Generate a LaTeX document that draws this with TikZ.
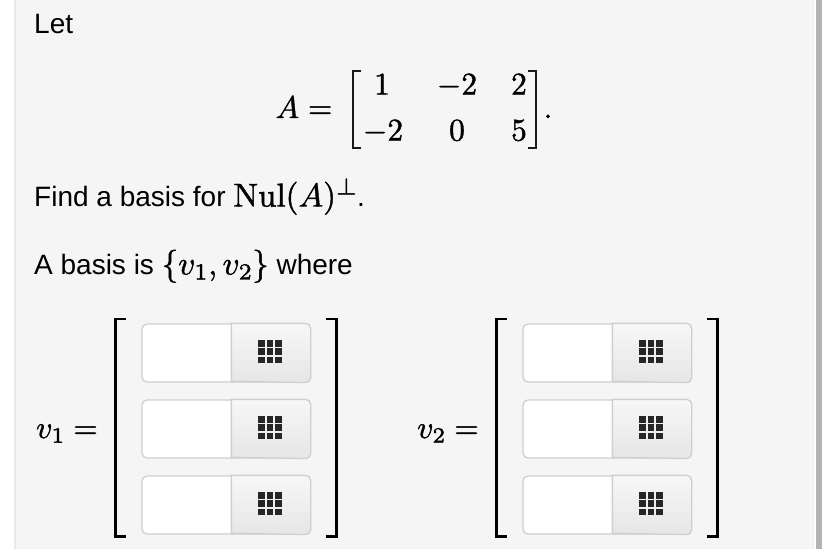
\documentclass[tikz,border=0pt]{standalone}
\usepackage[no-math]{fontspec}
\newfontfamily\helv{Liberation Sans}
\usetikzlibrary{positioning}
% text-size math in the wide shapes, whatever the size
\DeclareFontShape{OT1}{cmr}{m}{n}{<-25>cmr7 <25->cmr10}{}
\DeclareFontShape{OML}{cmm}{m}{it}{<-25>cmmi7 <25->cmmi10}{}
\DeclareFontShape{OMS}{cmsy}{m}{n}{<-25>cmsy7 <25->cmsy10}{}
\DeclareFontShape{OMX}{cmex}{m}{n}{<->cmex10}{}
\newcommand\heavy[1]{\special{pdf:code 2 Tr 0.4 w}#1\special{pdf:code 0 Tr}}
\newcommand\bigmath[1]{{\fontsize{33}{36}\selectfont\heavy{#1}}}
\definecolor{panelgray}{HTML}{F5F5F5}
\definecolor{edgegray}{HTML}{CFCFCF}
\tikzset{
	prose/.style={anchor=base west,inner sep=0pt,font=\fontsize{28}{34}\helv},
	mathtxt/.style={anchor=base,inner sep=0pt,font=\fontsize{31.5}{36}\selectfont},
	field/.style={draw=edgegray,line width=1.3pt,fill=white,rounded corners=5pt,
		minimum width=168pt,minimum height=58pt,inner sep=0pt},
	btn/.style={top color=white!97!black,bottom color=white!90!black,draw=edgegray,line width=1.3pt},
	cell/.style={fill=black!85,minimum size=6.6pt,inner sep=0pt},
	bigbr/.style={line width=2.6pt,black,line cap=butt},
	smallbr/.style={line width=1.6pt,black!90}
}
\begin{document}
\begin{tikzpicture}[x=1pt,y=-1pt]
	\useasboundingbox (0,0) rectangle (828,549);
	\fill[white] (0,0) rectangle (828,549);
	\fill[panelgray] (16,0) rectangle (812,549);
	\fill[black!9] (14,0) rectangle (16,549);
	\fill[black!6] (812,0) rectangle (814,549);
	\fill[black!30] (816,0) rectangle (822,549);

	\node[prose] (let) at (34,33) {Let};
	\node[prose] (find) at (34,206.5) {Find a basis for \bigmath{$\mathrm{Nul}(A)^{\perp}$}.};
	\node[prose] (basis) at (34,274.5) {A basis is \bigmath{$\{v_1,v_2\}$} where};

	% the matrix A
	\node[mathtxt] (lhs) at (304,118) {\heavy{$A=$}};
	\node[mathtxt] (aii) at (382,94.5) {\heavy{$1$}};
	\node[mathtxt] (aij) at (457,94.5) {\heavy{$-2$}};
	\node[mathtxt] (aik) at (519,94.5) {\heavy{$2$}};
	\node[mathtxt] (aji) at (383,140.5) {\heavy{$-2$}};
	\node[mathtxt] (ajj) at (457,140.5) {\heavy{$0$}};
	\node[mathtxt] (ajk) at (519,140.5) {\heavy{$5$}};
	\node[mathtxt] (dot) at (548,118) {\heavy{$.$}};
	\draw[smallbr] (361,71) -- (352.7,71) -- (352.7,148) -- (361,148);
	\draw[smallbr] (528,71) -- (536,71) -- (536,148) -- (528,148);

	% the two vectors
	\node[mathtxt] (vi) at (67,438) {\heavy{$v_1=$}};
	\node[mathtxt] (vii) at (448,438) {\heavy{$v_2=$}};
	\foreach \gx/\gn in {0/i,381/ii}{
		\draw[bigbr] (125.7+\gx,319) -- (115.5+\gx,319) -- (115.5+\gx,536.7) -- (125.7+\gx,536.7);
		\draw[bigbr] (326+\gx,319) -- (336.3+\gx,319) -- (336.3+\gx,536.7) -- (326+\gx,536.7);
		\foreach \by/\bn in {353/a,429/b,505/c}{
			\node[field] (field\gn\bn) at (226+\gx,\by) {};
			\shadedraw[btn] (field\gn\bn.north west) ++(90,0) -- ++(0,58) [rounded corners=5pt] -- (field\gn\bn.south east) -- (field\gn\bn.north east) [sharp corners] -- cycle;
			\foreach \cx in {-8.3,0,8.3}
				\foreach \cy in {-8.3,0,8.3}
					\node[cell] at (270+\gx+\cx,\by-1.3+\cy) {};
		}
	}
\end{tikzpicture}
\end{document}
